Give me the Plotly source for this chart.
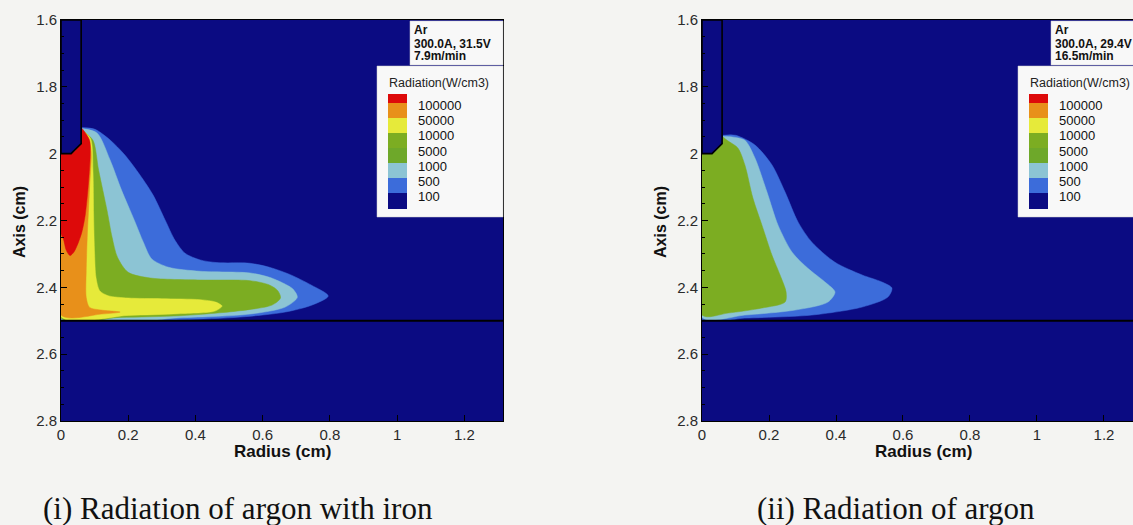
import plotly.graph_objects as go

W, H = 1133, 525

# ---------------- data (cm) ----------------
electrode_r = [0.0, 0.06, 0.06, 0.03, 0.0]
electrode_z = [1.6, 1.6, 1.97, 2.0, 2.0]
workpiece_z = 2.5
x_max_left = 1.315
x_max_right = 1.2866

level_labels = ["100000", "50000", "10000", "5000", "1000", "500", "100"]

# (i) argon with iron : contour boundaries (radius, axis)
iron_100_r = [0.063, 0.101, 0.146, 0.19, 0.235, 0.274, 0.31, 0.339, 0.369, 0.414, 0.464, 0.5625, 0.62, 0.682, 0.744, 0.795, 0.747, 0.667, 0.533, 0.354, 0.0]
iron_100_z = [1.922, 1.927, 1.959, 2.004, 2.064, 2.124, 2.199, 2.259, 2.298, 2.318, 2.326, 2.328, 2.340, 2.362, 2.393, 2.426, 2.453, 2.474, 2.489, 2.497, 2.499]

iron_500_r = [0.063, 0.107, 0.146, 0.18, 0.218, 0.245, 0.27, 0.32, 0.414, 0.5625, 0.62, 0.66, 0.69, 0.703, 0.667, 0.5625, 0.354, 0.0]
iron_500_z = [1.925, 1.938, 2.019, 2.109, 2.199, 2.265, 2.315, 2.340, 2.352, 2.357, 2.370, 2.387, 2.405, 2.430, 2.459, 2.480, 2.491, 2.495]

iron_1000_r = [0.063, 0.095, 0.112, 0.137, 0.152, 0.168, 0.2, 0.265, 0.414, 0.5625, 0.62, 0.645, 0.653, 0.628, 0.533, 0.354, 0.176, 0.0]
iron_1000_z = [1.930, 1.960, 2.050, 2.170, 2.25, 2.31, 2.355, 2.372, 2.378, 2.380, 2.393, 2.410, 2.432, 2.453, 2.470, 2.485, 2.490, 2.492]

iron_10000_r = [0.063, 0.088, 0.095, 0.097, 0.1, 0.104, 0.115, 0.14, 0.2, 0.3, 0.414, 0.46, 0.479, 0.458, 0.35, 0.2, 0.0]
iron_10000_z = [1.930, 1.955, 2.05, 2.184, 2.3, 2.37, 2.41, 2.425, 2.432, 2.434, 2.437, 2.444, 2.456, 2.471, 2.479, 2.484, 2.488]

iron_50000_r = [0.063, 0.088, 0.085, 0.078, 0.075, 0.075, 0.085, 0.12, 0.176, 0.12, 0.0]
iron_50000_z = [1.93, 1.98, 2.10, 2.25, 2.35, 2.43, 2.46, 2.468, 2.474, 2.480, 2.483]

iron_100000_r = [0.063, 0.085, 0.087, 0.082, 0.072, 0.062, 0.05, 0.038, 0.027, 0.016, 0.007, 0.0]
iron_100000_z = [1.925, 1.96, 2.0, 2.085, 2.184, 2.235, 2.27, 2.295, 2.305, 2.29, 2.255, 2.24]

# (ii) argon
ar_100_r = [0.063, 0.1, 0.158, 0.209, 0.248, 0.287, 0.328, 0.397, 0.478, 0.537, 0.567, 0.555, 0.478, 0.328, 0.128, 0.0]
ar_100_z = [1.945, 1.945, 1.974, 2.034, 2.115, 2.205, 2.265, 2.325, 2.363, 2.384, 2.402, 2.429, 2.459, 2.483, 2.492, 2.496]

ar_500_r = [0.063, 0.09, 0.128, 0.158, 0.194, 0.227, 0.269, 0.316, 0.367, 0.397, 0.376, 0.278, 0.128, 0.0]
ar_500_z = [1.948, 1.950, 1.960, 2.013, 2.115, 2.214, 2.295, 2.343, 2.384, 2.414, 2.444, 2.468, 2.483, 2.490]

ar_1000_r = [0.063, 0.075, 0.107, 0.128, 0.152, 0.179, 0.209, 0.233, 0.251, 0.248, 0.179, 0.078, 0.0]
ar_1000_z = [1.950, 1.960, 1.983, 2.034, 2.133, 2.214, 2.304, 2.363, 2.414, 2.444, 2.462, 2.477, 2.483]

# ---------------- styling ----------------
NAVY = "#0b0b82"
BLUE = "#3c6cda"
LBLUE = "#8cc4d4"
GREEN = "#7cad22"
GREEN2 = "#6ea82a"
YELLOW = "#e6ea3a"
ORANGE = "#e8901a"
RED = "#dd0a0a"
legend_colors = [RED, ORANGE, YELLOW, GREEN, GREEN2, LBLUE, BLUE, NAVY]

SANS = "Liberation Sans, Arial, sans-serif"
SERIF = "Liberation Serif, Times New Roman, serif"

fig = go.Figure()

tip_r = [electrode_r[4], electrode_r[3], electrode_r[2]]
tip_z = [electrode_z[4], electrode_z[3], electrode_z[2]]


def add_region(r, z, color, xa, ya):
    fig.add_trace(go.Scatter(
        x=list(r) + tip_r, y=list(z) + tip_z, fill="toself", fillcolor=color,
        mode="lines", line=dict(color=color, width=0.5, shape="spline", smoothing=0.8),
        hoverinfo="skip", showlegend=False, xaxis=xa, yaxis=ya))


panels = [
    ("x", "y", x_max_left, [
        (iron_100_r, iron_100_z, BLUE),
        (iron_500_r, iron_500_z, LBLUE),
        (iron_1000_r, iron_1000_z, GREEN),
        (iron_10000_r, iron_10000_z, YELLOW),
        (iron_50000_r, iron_50000_z, ORANGE),
        (iron_100000_r, iron_100000_z, RED),
    ]),
    ("x2", "y2", x_max_right, [
        (ar_100_r, ar_100_z, BLUE),
        (ar_500_r, ar_500_z, LBLUE),
        (ar_1000_r, ar_1000_z, GREEN),
    ]),
]

for xa, ya, xmax, regions in panels:
    for r, z, c in regions:
        add_region(r, z, c, xa, ya)
    # region below the workpiece surface
    fig.add_trace(go.Scatter(
        x=[0, xmax, xmax, 0, 0], y=[workpiece_z, workpiece_z, 2.8, 2.8, workpiece_z],
        fill="toself", fillcolor=NAVY, mode="lines", line=dict(width=0),
        hoverinfo="skip", showlegend=False, xaxis=xa, yaxis=ya))
    # electrode
    fig.add_trace(go.Scatter(
        x=electrode_r + [electrode_r[0]], y=electrode_z + [electrode_z[0]],
        fill="toself", fillcolor=NAVY, mode="lines",
        line=dict(color="black", width=1.6), hoverinfo="skip",
        showlegend=False, xaxis=xa, yaxis=ya))
    # workpiece surface
    fig.add_trace(go.Scatter(
        x=[0, xmax], y=[workpiece_z, workpiece_z], mode="lines",
        line=dict(color="black", width=1.8), hoverinfo="skip",
        showlegend=False, xaxis=xa, yaxis=ya))

axis_common = dict(showline=True, mirror=True, linecolor="black", linewidth=1,
                   ticks="inside", ticklen=6, tickcolor="black", showgrid=False,
                   zeroline=False, tickfont=dict(family=SANS, size=15, color="#2a2a2a"))

ydom = [1 - 421 / H, 1 - 20 / H]
fig.update_layout(
    width=W, height=H, autosize=False,
    margin=dict(l=0, r=0, t=0, b=0, autoexpand=False),
    paper_bgcolor="#f4f4f2", plot_bgcolor=NAVY,
    xaxis=dict(domain=[61 / W, 503 / W], range=[0, x_max_left], dtick=0.2, tick0=0,
               anchor="y", **axis_common),
    yaxis=dict(domain=ydom, range=[2.8, 1.6], dtick=0.2, tick0=1.6, anchor="x",
               minor=dict(dtick=0.05, ticks="inside", ticklen=3, tickcolor="black"),
               **axis_common),
    xaxis2=dict(domain=[702 / W, 1.0], range=[0, x_max_right], dtick=0.2, tick0=0,
                anchor="y2", **axis_common),
    yaxis2=dict(domain=ydom, range=[2.8, 1.6], dtick=0.2, tick0=1.6, anchor="x2",
                minor=dict(dtick=0.05, ticks="inside", ticklen=3, tickcolor="black"),
                **axis_common),
)


def px(x):
    return x / W


def py(y):
    return 1 - y / H


shapes = []
annotations = []

panel_info = [
    (0, ["Ar", "300.0A, 31.5V", "7.9m/min"], "(i) Radiation of argon with iron", 238),
    (641, ["Ar", "300.0A, 29.4V", "16.5m/min"], "(ii) Radiation of argon", 896),
]

for off, info, caption, cap_x in panel_info:
    # info box
    shapes.append(dict(type="rect", xref="paper", yref="paper",
                       x0=px(410 + off), x1=px(503 + off), y0=py(65), y1=py(21),
                       fillcolor="#f8f8f8", line=dict(color="#cccccc", width=0.5)))
    for text, yy in zip(info, [29.5, 43.5, 56]):
        annotations.append(dict(xref="paper", yref="paper", x=px(412 + off), y=py(yy),
                                xanchor="left", yanchor="middle", showarrow=False,
                                text="<b>%s</b>" % text,
                                font=dict(family=SANS, size=12, color="#111")))
    # colour legend box
    shapes.append(dict(type="rect", xref="paper", yref="paper",
                       x0=px(377 + off), x1=px(503 + off), y0=py(217), y1=py(66),
                       fillcolor="#f8f8f8", line=dict(color="#cccccc", width=0.5)))
    annotations.append(dict(xref="paper", yref="paper", x=px(387 + off), y=py(83),
                            xanchor="left", yanchor="middle", showarrow=False,
                            text="Radiation(W/cm3)",
                            font=dict(family=SANS, size=12.5, color="#222")))
    bounds = [94, 103, 118, 133, 148, 163, 178, 193, 209]
    for i, c in enumerate(legend_colors):
        shapes.append(dict(type="rect", xref="paper", yref="paper",
                           x0=px(388 + off), x1=px(407 + off),
                           y0=py(bounds[i + 1]), y1=py(bounds[i]),
                           fillcolor=c, line=dict(width=0)))
    for i, lab in enumerate(level_labels):
        annotations.append(dict(xref="paper", yref="paper", x=px(416 + off),
                                y=py(105.5 + 15.2 * i), xanchor="left", yanchor="middle",
                                showarrow=False, text=lab,
                                font=dict(family=SANS, size=13, color="#111")))
    # axis titles
    annotations.append(dict(xref="paper", yref="paper", x=px(20 + off), y=py(222),
                            xanchor="center", yanchor="middle", textangle=-90,
                            showarrow=False, text="<b>Axis (cm)</b>",
                            font=dict(family=SANS, size=16, color="#111")))
    annotations.append(dict(xref="paper", yref="paper", x=px(282 + off), y=py(451),
                            xanchor="center", yanchor="middle",
                            showarrow=False, text="<b>Radius (cm)</b>",
                            font=dict(family=SANS, size=17, color="#111")))
    # caption
    annotations.append(dict(xref="paper", yref="paper", x=px(cap_x), y=py(508),
                            xanchor="center", yanchor="middle",
                            showarrow=False, text=caption,
                            font=dict(family=SERIF, size=31, color="#111")))

fig.update_layout(shapes=shapes, annotations=annotations)

fig.write_html("out.html")
